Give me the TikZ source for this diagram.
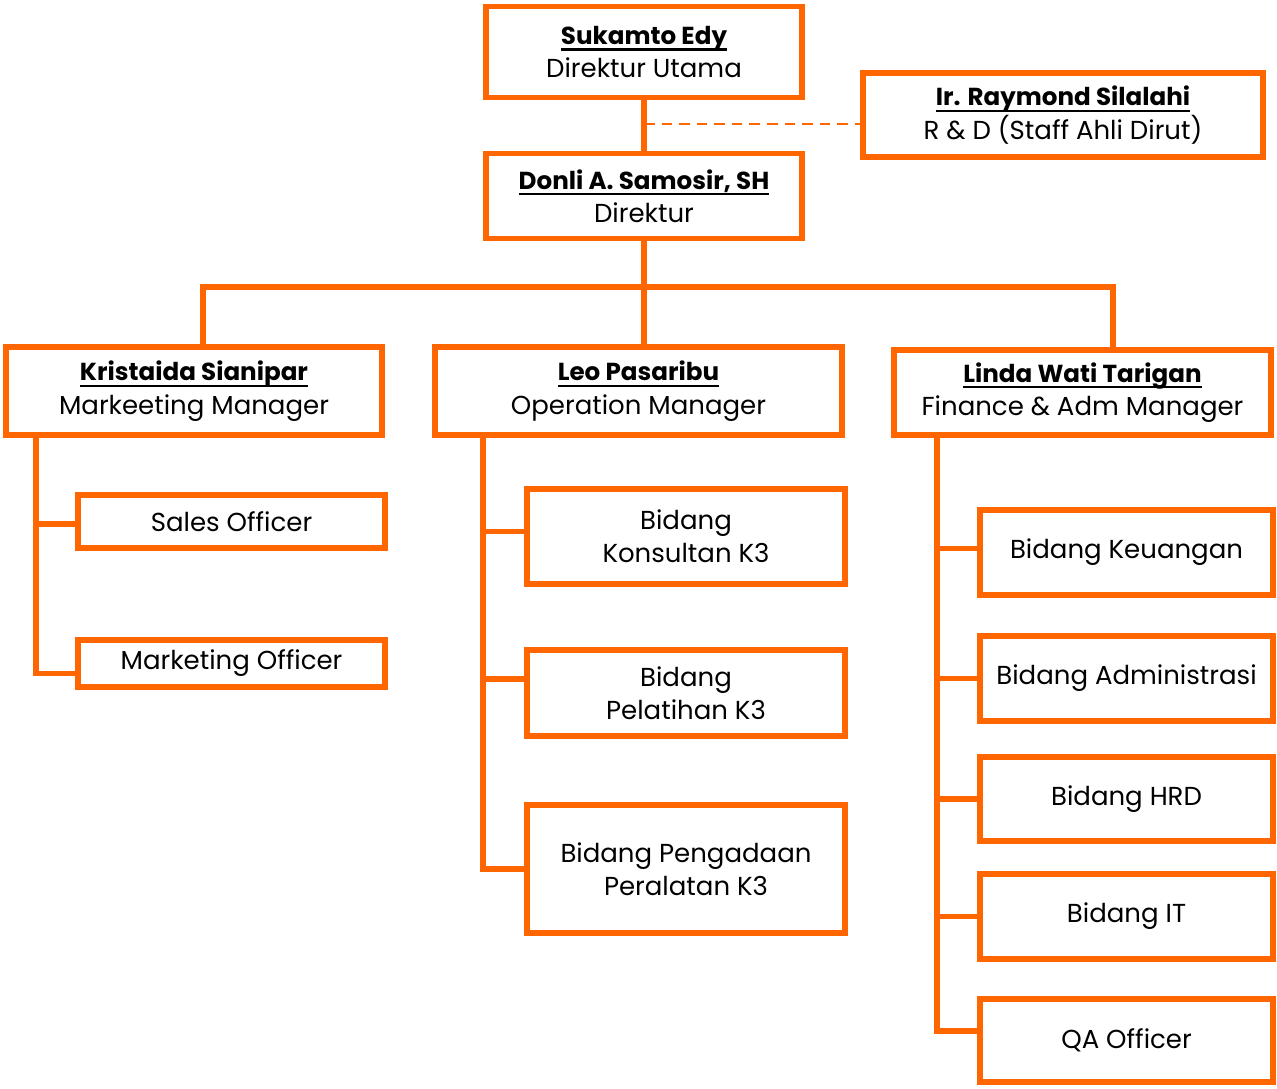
\documentclass[tikz,border=0pt]{standalone}
\usepackage{fontspec}
\setmainfont{Poppins}
\usetikzlibrary{positioning}
\definecolor{orgline}{RGB}{255,102,0}
\tikzstyle{obox}=[rectangle, draw=orgline, line width=3.4pt, fill=white,
                  inner sep=2pt, align=center,
                  font=\fontsize{14.8}{19}\selectfont]
\tikzstyle{pline}=[-, draw=orgline, line width=3.4pt]
\tikzstyle{dline}=[-, draw=orgline, line width=1.7pt, dash pattern=on 6pt off 4pt]
\newcommand{\pname}[1]{{\fontsize{14}{19}\selectfont
  \setbox0\hbox{\textbf{#1}}\rlap{\raisebox{-3.6pt}{\rule{\wd0}{1.3pt}}}\box0}}

\begin{document}
\begin{tikzpicture}[x=0.02cm, y=-0.02cm]
\useasboundingbox (0,0) rectangle (1277,1088);

% top
\node (DIRUT) [obox, minimum width=6.32cm, minimum height=1.82cm] at (644,52)
  {\pname{Sukamto Edy}\\ Direktur Utama};
\node (RND) [obox, minimum width=8.0cm, minimum height=1.68cm] at (1063,115)
  {\pname{Ir. Raymond Silalahi}\\ R \& D (Staff Ahli Dirut)};
\node (DIR) [obox, minimum width=6.32cm, minimum height=1.70cm] at (644,196)
  {\pname{Donli A. Samosir, SH}\\ Direktur};

 \draw[pline] (DIRUT.south) -- (DIR.north);
\coordinate (rdj) at (644,124);
 \draw[dline] (rdj) -- (rdj -| RND.west);

% managers
\node (MKT) [obox, minimum width=7.52cm, minimum height=1.76cm] at (194,391)
  {\pname{Kristaida Sianipar}\\ Markeeting Manager};
\node (OPS) [obox, minimum width=8.14cm, minimum height=1.76cm] at (638.5,391)
  {\pname{Leo Pasaribu}\\ Operation Manager};
\node (FIN) [obox, minimum width=7.54cm, minimum height=1.70cm] at (1082.5,392.5)
  {\pname{Linda Wati Tarigan}\\ Finance \& Adm Manager};

\coordinate (busL) at (203,287);
\coordinate (busR) at (1113,287);
 \draw[pline] (DIR.south) -- (DIR.south |- busL);
 \draw[pline] (MKT.north -| busL) -- (busL) -- (busR) -- (FIN.north -| busR);
 \draw[pline] (DIR.south |- busL) -- (DIR.south |- OPS.north);

% marketing
\node (SALES) [obox, minimum width=6.14cm, minimum height=1.06cm] at (231.5,521.5) {Sales Officer};
\node (MKTO) [obox, minimum width=6.14cm, minimum height=0.94cm] at (231.5,663.5) {Marketing Officer};
\coordinate (mspine) at (36,0);
 \draw[pline] (MKT.south -| mspine) |- ([yshift=-0.2cm]MKTO.west);
 \draw[pline] ([yshift=-0.05cm]SALES.west -| mspine) -- ([yshift=-0.05cm]SALES.west);

% operation
\node (KONS) [obox, minimum width=6.36cm, minimum height=1.90cm] at (686,536.5) {Bidang\\ Konsultan K3};
\node (PEL) [obox, minimum width=6.36cm, minimum height=1.72cm] at (686,693) {Bidang\\ Pelatihan K3};
\node (PENG) [obox, minimum width=6.36cm, minimum height=2.56cm] at (686,869) {Bidang Pengadaan\\ Peralatan K3};
\coordinate (ospine) at (483,0);
 \draw[pline] (OPS.south -| ospine) |- (PENG.west);
 \draw[pline] ([yshift=0.1cm]KONS.west -| ospine) -- ([yshift=0.1cm]KONS.west);
 \draw[pline] ([yshift=0.28cm]PEL.west -| ospine) -- ([yshift=0.28cm]PEL.west);

% finance
\node (KEU) [obox, minimum width=5.86cm, minimum height=1.70cm] at (1126.5,552.5) {Bidang Keuangan};
\node (ADM) [obox, minimum width=5.86cm, minimum height=1.70cm] at (1126.5,678.5) {Bidang Administrasi};
\node (HRD) [obox, minimum width=5.86cm, minimum height=1.68cm] at (1126.5,799) {Bidang HRD};
\node (IT) [obox, minimum width=5.86cm, minimum height=1.70cm] at (1126.5,916.5) {Bidang IT};
\node (QA) [obox, minimum width=5.86cm, minimum height=1.66cm] at (1126.5,1040.5) {QA Officer};
\coordinate (fspine) at (937,0);
 \draw[pline] (FIN.south -| fspine) |- ([yshift=0.2cm]QA.west);
 \draw[pline] ([yshift=0.08cm]KEU.west -| fspine) -- ([yshift=0.08cm]KEU.west);
 \foreach \b in {ADM,HRD,IT}
  \draw[pline] (\b.west -| fspine) -- (\b.west);

\end{tikzpicture}
\end{document}
